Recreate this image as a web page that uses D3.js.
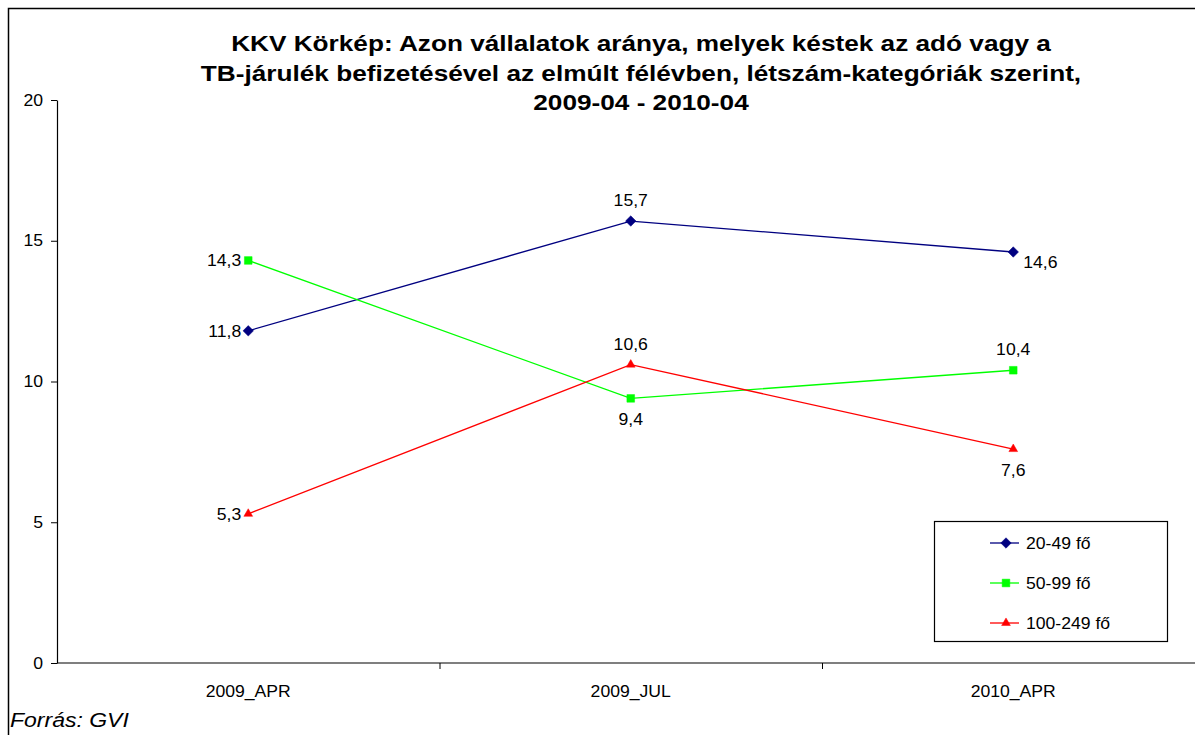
<!DOCTYPE html>
<html>
<head>
<meta charset="utf-8">
<script src="https://cdn.jsdelivr.net/npm/d3@7"></script>
<style>
  html, body { margin: 0; padding: 0; background: #fff; }
  svg { display: block; font-family: "Liberation Sans", Arial, sans-serif; }
</style>
</head>
<body>
<svg id="chart" width="1195" height="735"></svg>
<script>
// Periods, series and axis ticks
const categories = ["2009_APR", "2009_JUL", "2010_APR"];
const seriesNames = ["20-49 fő", "50-99 fő", "100-249 fő"];
const values2049 = [11.8, 15.7, 14.6];
const values5099 = [14.3, 9.4, 10.4];
const values100249 = [5.3, 10.6, 7.6];
const yTicks = [0, 5, 10, 15, 20];
const titleLines = [
  "KKV Körkép: Azon vállalatok aránya, melyek késtek az adó vagy a",
  "TB-járulék befizetésével az elmúlt félévben, létszám-kategóriák szerint,",
  "2009-04 - 2010-04"
];

const series = [
  { name: seriesNames[0], values: values2049, color: "#000080", symbol: d3.symbolDiamond2, size: 70, labelPos: ["left", "above", "rightBelow"] },
  { name: seriesNames[1], values: values5099, color: "#00ff00", symbol: d3.symbolSquare2, size: 75, labelPos: ["left", "below", "above"] },
  { name: seriesNames[2], values: values100249, color: "#ff0000", symbol: d3.symbolTriangle2, size: 55, labelPos: ["left", "above", "below"] }
];

// Widen glyphs horizontally, keeping the anchor in place
function stretch(sel, k) {
  sel.each(function () {
    const w = this.getComputedTextLength();
    d3.select(this).attr("textLength", w * k).attr("lengthAdjust", "spacingAndGlyphs");
  });
}

const svg = d3.select("#chart");

// Outer frame
svg.append("rect").attr("x", 8.5).attr("y", 8.5).attr("width", 1200).attr("height", 740)
  .attr("fill", "none").attr("stroke", "#000").attr("stroke-width", 1.5);

const plot = { left: 57, right: 1204.5, top: 100, bottom: 663 };

const x = d3.scaleBand().domain(categories).range([plot.left, plot.right]);
const y = d3.scaleLinear().domain([0, 20]).range([plot.bottom, plot.top]);

// Title
titleLines.forEach((t, i) => {
  svg.append("text").attr("class", "title").attr("text-anchor", "middle")
    .attr("font-weight", "bold").attr("font-size", 22).attr("fill", "#000")
    .attr("x", 641).attr("y", 51 + i * 29.5).text(t);
});
stretch(svg.selectAll("text.title"), 1.19);

// Y axis
const yAxis = svg.append("g").attr("transform", `translate(${plot.left},0)`)
  .call(d3.axisLeft(y).tickValues(yTicks).tickSize(6).tickPadding(8).tickSizeOuter(0));
yAxis.select(".domain").attr("stroke", "#000").attr("stroke-width", 1.2);
yAxis.selectAll(".tick line").attr("stroke", "#000");
yAxis.selectAll(".tick text").attr("font-size", 16).attr("fill", "#000")
  .attr("font-family", "Liberation Sans, Arial, sans-serif").attr("class", "lbl");

// X axis with ticks at category boundaries
const xAxisG = svg.append("g").attr("transform", `translate(0,${plot.bottom})`);
xAxisG.append("line").attr("x1", plot.left).attr("x2", plot.right)
  .attr("y1", 0).attr("y2", 0).attr("stroke", "#000").attr("stroke-width", 1.2);
categories.forEach((c, i) => {
  if (i > 0) {
    xAxisG.append("line").attr("x1", x(c) + 0.5).attr("x2", x(c) + 0.5)
      .attr("y1", 0).attr("y2", 6).attr("stroke", "#000");
  }
  xAxisG.append("text").attr("class", "lbl").attr("x", x(c) + x.bandwidth() / 2).attr("y", 34)
    .attr("text-anchor", "middle").attr("font-size", 16).attr("fill", "#000").text(c);
});

const cx = c => x(c) + x.bandwidth() / 2;

// Lines, markers, value labels
series.forEach(s => {
  const line = d3.line().x((d, i) => cx(categories[i])).y(d => y(d));
  svg.append("path").datum(s.values).attr("d", line)
    .attr("fill", "none").attr("stroke", s.color).attr("stroke-width", 1.3);
  svg.selectAll(null).data(s.values).enter().append("path")
    .attr("d", d3.symbol().type(s.symbol).size(s.size))
    .attr("transform", (d, i) => `translate(${cx(categories[i])},${y(d)})`)
    .attr("fill", s.color).attr("stroke", s.color).attr("stroke-width", 0.5);
  s.values.forEach((v, i) => {
    const px = cx(categories[i]), py = y(v);
    const pos = s.labelPos[i];
    let tx = px, ty = py, anchor = "middle";
    if (pos === "left") { tx = px - 7; ty = py + 6; anchor = "end"; }
    else if (pos === "above") { ty = py - 15; }
    else if (pos === "below") { ty = py + 27; }
    else if (pos === "rightBelow") { tx = px + 10; ty = py + 16; anchor = "start"; }
    svg.append("text").attr("class", "lbl").attr("x", tx).attr("y", ty).attr("text-anchor", anchor)
      .attr("font-size", 16).attr("fill", "#000")
      .text(String(v.toFixed(1)).replace(".", ","));
  });
});

// Legend
const legend = svg.append("g");
legend.append("rect").attr("x", 934.5).attr("y", 521.5).attr("width", 233).attr("height", 120)
  .attr("fill", "#fff").attr("stroke", "#000").attr("stroke-width", 1.2);
series.forEach((s, i) => {
  const ly = 543 + i * 40;
  legend.append("line").attr("x1", 990).attr("x2", 1019).attr("y1", ly).attr("y2", ly)
    .attr("stroke", s.color).attr("stroke-width", 1.3);
  legend.append("path").attr("d", d3.symbol().type(s.symbol).size(s.size))
    .attr("transform", `translate(1006,${ly})`).attr("fill", s.color)
    .attr("stroke", s.color).attr("stroke-width", 0.5);
  legend.append("text").attr("class", "lbl").attr("x", 1026).attr("y", ly + 6).attr("font-size", 16)
    .attr("fill", "#000").text(s.name);
});

stretch(svg.selectAll("text.lbl"), 1.1);

// Source note
const src = svg.append("text").attr("x", 10).attr("y", 727).attr("font-size", 20)
  .attr("font-style", "italic").attr("fill", "#000").text("Forrás: GVI");
stretch(src, 1.15);
</script>
</body>
</html>
